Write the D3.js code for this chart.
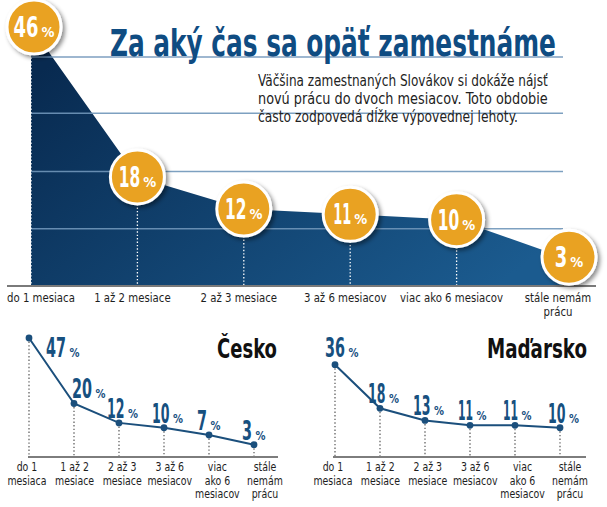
<!DOCTYPE html>
<html><head><meta charset="utf-8">
<script src="https://cdn.jsdelivr.net/npm/d3@7"></script>
<style>
html,body{margin:0;padding:0;background:#fff;}
svg{display:block;}
</style></head>
<body>
<svg id="chart" width="607" height="507"></svg>
<script>
// ---------- DATA ----------
const categories = ["do 1 mesiaca","1 až 2 mesiace","2 až 3 mesiace","3 až 6 mesiacov","viac ako 6 mesiacov","stále nemám prácu"];
const skValues = [46, 18, 12, 11, 10, 3];
const czValues = [47, 20, 12, 10, 7, 3];
const huValues = [36, 18, 13, 11, 11, 10];
const mainCategoryLines = [["do 1 mesiaca"],["1 až 2 mesiace"],["2 až 3 mesiace"],["3 až 6 mesiacov"],["viac ako 6 mesiacov"],["stále nemám","prácu"]];
const smallCategoryLines = [["do 1","mesiaca"],["1 až 2","mesiace"],["2 až 3","mesiace"],["3 až 6","mesiacov"],["viac","ako 6","mesiacov"],["stále","nemám","prácu"]];
const gridValues = [8.3, 19, 29.9, 40.4];
const titleText = "Za aký čas sa opäť zamestnáme";
const descLines = ["Väčšina zamestnaných Slovákov si dokáže nájsť","novú prácu do dvoch mesiacov. Toto obdobie","často zodpovedá dĺžke výpovednej lehoty."];
const czTitle = "Česko";
const huTitle = "Maďarsko";

// ---------- SETUP ----------
const svg = d3.select("#chart");
const FONT = '"Liberation Sans Narrow","DejaVu Sans Condensed","Roboto Condensed","Roboto",sans-serif';
const defs = svg.append("defs");
const grad = defs.append("linearGradient").attr("id","areaGrad").attr("x1","0").attr("y1","0.2").attr("x2","1").attr("y2","0.8");
grad.append("stop").attr("offset","0").attr("stop-color","#082a50");
grad.append("stop").attr("offset","1").attr("stop-color","#1b5b8f");
const sh = defs.append("filter").attr("id","shadow").attr("x","-30%").attr("y","-30%").attr("width","170%").attr("height","170%");
sh.append("feDropShadow").attr("dx",2.5).attr("dy",2.5).attr("stdDeviation",2).attr("flood-color","#000").attr("flood-opacity",0.45);

// condensed text: either target width (o.w) or squeeze factor (o.k)
function ctext(g, str, x, y, o){
  const t = g.append("text").attr("font-family",FONT).attr("font-size",o.size)
    .attr("font-weight",o.weight||"normal").attr("fill",o.fill||"#1e1e1e").text(str);
  const nat = t.node().getComputedTextLength();
  const w = o.w != null ? o.w : nat*(o.k||1);
  let x0 = x;
  if (o.anchor === "middle") x0 = x - w/2; else if (o.anchor === "end") x0 = x - w;
  if (o.minX != null && x0 < o.minX) x0 = o.minX;
  t.attr("transform",`translate(${x0},${y}) scale(${w/nat},1)`);
  return w;
}
function digitsWidth(s, wide, narrow){
  let w = 0; for (const c of s) w += (c === "1" ? narrow : wide); return w;
}
function pctLabel(g, x, y, v, o){
  const s = String(v);
  const numW = digitsWidth(s, o.wide, o.narrow);
  const total = numW + o.gap + o.pctW;
  const x0 = o.anchor === "middle" ? x - total/2 : x;
  ctext(g, s, x0, y, {size:o.numSize, weight:"bold", fill:o.color, w:numW});
  ctext(g, "%", x0 + numW + o.gap, y, {size:o.pctSize, weight:"bold", fill:o.color, w:o.pctW});
}

// ---------- MAIN CHART ----------
const x = d3.scalePoint().domain(categories).range([31, 563]);
const yMin = -2.2;
const y = d3.scaleLinear().domain([yMin, 46]).range([285, 27]);
const skData = categories.map((c,i)=>({cat:c, v:skValues[i]}));

const main = svg.append("g");
main.append("path").datum(skData)
  .attr("d", d3.area().x(d=>x(d.cat)).y0(y(yMin)).y1(d=>y(d.v)))
  .attr("fill","url(#areaGrad)");

main.selectAll(".grid").data(gridValues).join("line")
  .attr("x1", x(categories[0])).attr("x2", x(categories[categories.length-1]))
  .attr("y1", d=>y(d)).attr("y2", d=>y(d))
  .attr("stroke","#7096ba").attr("stroke-width",1.6).attr("opacity",0.9);

main.selectAll(".drop").data(skData.slice(0,5)).join("line")
  .attr("x1", d=>x(d.cat)).attr("x2", d=>x(d.cat))
  .attr("y1", d=>y(d.v)).attr("y2", y(yMin))
  .attr("stroke","#fff").attr("stroke-width",1.3).attr("stroke-dasharray","1.4,2");

main.append("line").attr("x1",7).attr("x2",596).attr("y1",y(yMin)+1).attr("y2",y(yMin)+1)
  .attr("stroke","#7a7a7a").attr("stroke-width",2);

// title
ctext(svg, titleText, 110, 56, {size:38, weight:"bold", fill:"#0f4c82", w:446});

// description
const descLen = [290, 290, 260];
descLines.forEach((d,i)=>ctext(svg, d, 258, 86 + i*18, {size:15, fill:"#222", w:descLen[i]}));

// category labels
const catG = main.append("g");
mainCategoryLines.forEach((lines,i)=>{
  lines.forEach((ln,j)=>{
    ctext(catG, ln, x(categories[i]) - 5, 302 + j*14, {size:11.9, k:0.95, anchor:"middle", minX:7});
  });
});

// circles
const circG = svg.append("g");
skData.forEach((d,i)=>{
  const shift = i===5 ? 6 : (i===0 ? 3 : 0);
  const cx = x(d.cat) + shift, cy = y(d.v);
  circG.append("circle").attr("cx",cx).attr("cy",cy).attr("r",27)
    .attr("fill","#e9a221").attr("stroke","#fff").attr("stroke-width",3).attr("filter","url(#shadow)");
  pctLabel(circG, cx, cy + 10, d.v,
    {anchor:"middle", wide:12.5, narrow:9, gap:3, pctW:13, numSize:29, pctSize:14, color:"#fff"});
});

// ---------- SMALL CHARTS ----------
const ys = d3.scaleLinear().domain([0, 47]).range([452, 338]);
const axisY = 456;
function smallChart(values, cfg){
  const g = svg.append("g");
  const xs = d3.scalePoint().domain(categories).range(cfg.pointRange);
  const xl = d3.scalePoint().domain(categories).range(cfg.labelRange);
  const data = categories.map((c,i)=>({cat:c, v:values[i]}));
  g.selectAll(".sdrop").data(data).join("line")
    .attr("x1",d=>xs(d.cat)).attr("x2",d=>xs(d.cat)).attr("y1",d=>ys(d.v)).attr("y2",axisY)
    .attr("stroke","#555").attr("stroke-width",1.2).attr("stroke-dasharray","1.4,2.2");
  g.append("line").attr("x1",cfg.axisRange[0]).attr("x2",cfg.axisRange[1]).attr("y1",axisY+1).attr("y2",axisY+1)
    .attr("stroke","#7d7d7d").attr("stroke-width",2);
  g.append("path").datum(data).attr("d", d3.line().x(d=>xs(d.cat)).y(d=>ys(d.v)))
    .attr("fill","none").attr("stroke","#1b4f7c").attr("stroke-width",2);
  g.selectAll(".dot").data(data).join("circle").attr("cx",d=>xs(d.cat)).attr("cy",d=>ys(d.v)).attr("r",3.4)
    .attr("fill","#1b4f7c");
  data.forEach((d,i)=>{
    const off = cfg.labelOffsets[i] || [-12, -5];
    pctLabel(g, xs(d.cat) + off[0], ys(d.v) + off[1], d.v,
      {anchor:"start", wide:10, narrow:7.5, gap:3.5, pctW:10, numSize:27, pctSize:13, color:"#17507f"});
  });
  smallCategoryLines.forEach((lines,i)=>{
    lines.forEach((ln,j)=>{
      ctext(g, ln, xl(categories[i]), 471 + j*13.7, {size:11.6, k:0.9, anchor:"middle"});
    });
  });
  ctext(g, cfg.title, cfg.titleX, 358, {size:26, weight:"bold", fill:"#111", w:cfg.titleW, anchor:"end"});
}
smallChart(czValues, {pointRange:[29,254], labelRange:[27,265], axisRange:[28,278], title:czTitle, titleX:277, titleW:60,
  labelOffsets:{0:[17,19], 1:[-2,-5]}});
smallChart(huValues, {pointRange:[335,560], labelRange:[333,570], axisRange:[333,586], title:huTitle, titleX:587, titleW:100,
  labelOffsets:{0:[-10,-8]}});
</script>
</body></html>
